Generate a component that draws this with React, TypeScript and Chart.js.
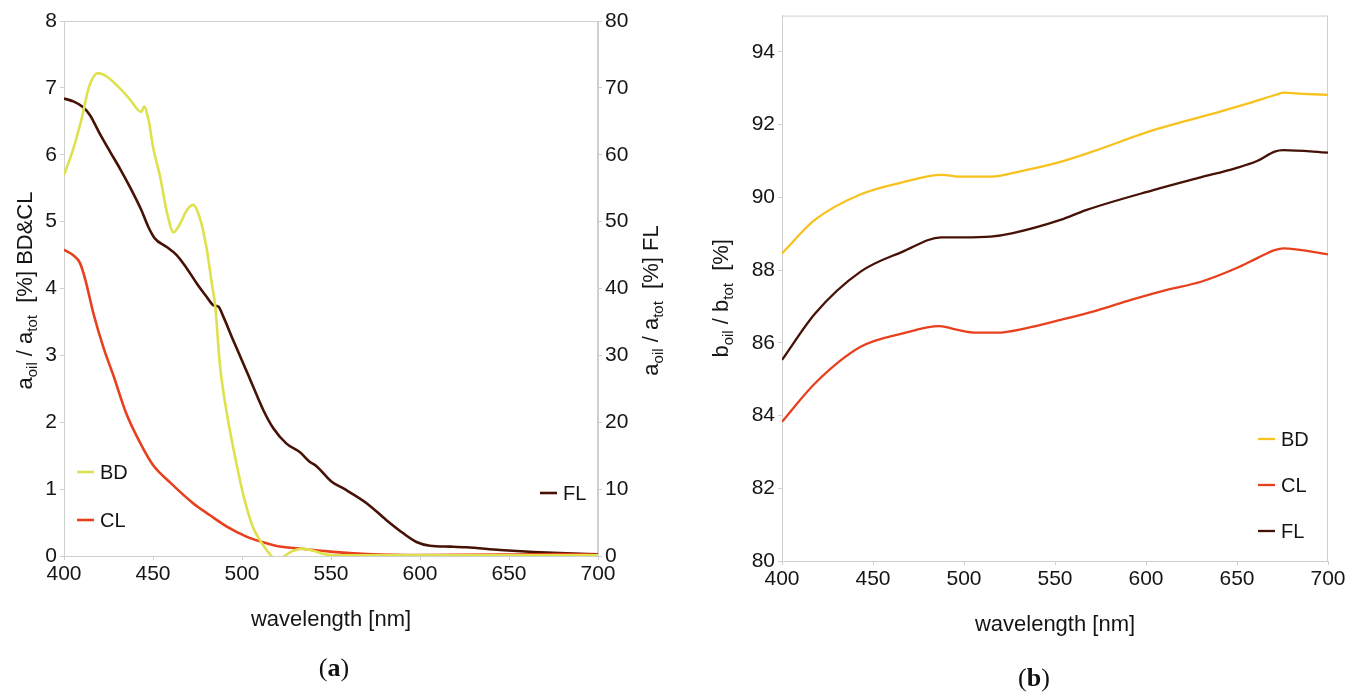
import React, { useEffect, useRef } from 'react';
import { Chart, registerables } from 'chart.js';

Chart.register(...registerables);

// ---------- Panel (a) data ----------
const wlBDa = [400, 405, 410, 414, 419, 424, 430, 436, 442, 443.5, 445, 447.5, 450, 454, 458, 461.5, 465, 469, 472.5, 476, 480, 483, 485, 487.5, 491.5, 495, 500.5, 506, 510, 516.5, 520, 524, 528, 534, 540, 546, 552, 560, 600, 650, 700];
const valBDa = [5.7, 6.07, 6.55, 7.01, 7.22, 7.17, 7.03, 6.86, 6.66, 6.64, 6.72, 6.52, 6.12, 5.67, 5.12, 4.84, 4.96, 5.17, 5.25, 5.08, 4.62, 4.08, 3.73, 2.88, 2.13, 1.63, 0.94, 0.44, 0.24, 0.0, -0.08, 0.0, 0.07, 0.11, 0.08, 0.03, 0.012, 0.01, 0.01, 0.01, 0.01];

const wlCLa = [400, 405, 409, 412, 416.5, 422, 428, 435, 443, 450, 460, 472.5, 482, 491.5, 502.5, 510, 519.5, 532.5, 549.5, 570, 600, 650, 680, 700];
const valCLa = [4.58, 4.5, 4.38, 4.13, 3.63, 3.13, 2.68, 2.13, 1.68, 1.36, 1.09, 0.79, 0.61, 0.44, 0.29, 0.22, 0.15, 0.11, 0.065, 0.03, 0.015, 0.02, 0.03, 0.02];

const wlFLa = [400, 405, 410.8, 414.6, 420, 426, 431.5, 437, 443.5, 447.4, 451, 457.7, 463.3, 469, 474.5, 480, 484, 486.7, 489.5, 495, 500.7, 506.3, 512, 517.6, 525, 532.6, 538, 542, 550.4, 557, 570, 581, 590.6, 598, 605.6, 617, 626, 645, 664, 682, 700];
const valFLa = [68.4, 68.0, 67.1, 65.9, 63.2, 60.4, 57.9, 55.2, 51.7, 49.2, 47.5, 46.2, 45.0, 43.0, 40.8, 38.8, 37.5, 37.3, 35.8, 32.3, 28.8, 25.3, 21.8, 19.1, 16.8, 15.5, 14.1, 13.4, 11.1, 10.1, 7.9, 5.4, 3.4, 2.1, 1.54, 1.4, 1.3, 0.9, 0.6, 0.4, 0.25];

// ---------- Panel (b) data ----------
const wlBDb = [400, 418, 443, 466, 487.6, 499, 514.6, 533.8, 553, 570, 604, 640.7, 659, 671.8, 675.5, 686, 700];
const valBDb = [88.46, 89.38, 90.08, 90.41, 90.62, 90.57, 90.57, 90.75, 90.98, 91.25, 91.85, 92.36, 92.63, 92.83, 92.88, 92.85, 92.82];

const wlCLb = [400, 418.2, 443.2, 466.4, 486.6, 495.3, 506.9, 518.4, 533.8, 553.1, 572.4, 591.7, 611, 630.2, 649.5, 661.1, 670.7, 675.5, 700];
const valCLb = [83.83, 84.89, 85.89, 86.26, 86.46, 86.37, 86.28, 86.28, 86.4, 86.63, 86.88, 87.18, 87.45, 87.68, 88.05, 88.33, 88.55, 88.6, 88.43];

const wlFLb = [400, 418.2, 443.2, 466.4, 487.6, 499.2, 514.6, 526.2, 553, 567, 604, 630, 649, 661, 670.7, 675.5, 700];
const valFLb = [85.53, 86.81, 87.96, 88.51, 88.9, 88.9, 88.92, 89.01, 89.38, 89.65, 90.2, 90.55, 90.8, 91.0, 91.26, 91.3, 91.23];

const xTicksA = [400, 450, 500, 550, 600, 650, 700];

const seriesLabels = ['BD', 'CL', 'FL'];

const FONT = '"Liberation Sans", Arial, sans-serif';
const C_BD_A = '#dfe14c';
const C_BD_B = '#f7c21f';
const C_CL = '#e8401e';
const C_FL = '#461206';
const AXIS = '#cfcfcf';
const TXT = '#151515';

type Seg = { t: string; sub?: boolean };

const titleA_left: Seg[] = [{ t: 'a' }, { t: 'oil', sub: true }, { t: ' / a' }, { t: 'tot', sub: true }, { t: '  [%] BD&CL' }];
const titleA_right: Seg[] = [{ t: 'a' }, { t: 'oil', sub: true }, { t: ' / a' }, { t: 'tot', sub: true }, { t: '  [%] FL' }];
const titleB_left: Seg[] = [{ t: 'b' }, { t: 'oil', sub: true }, { t: ' / b' }, { t: 'tot', sub: true }, { t: '  [%]' }];
const xTitle = 'wavelength [nm]';

function pts(xs: number[], ys: number[]) {
  return xs.map((x, i) => ({ x, y: ys[i] }));
}

function drawRich(ctx: CanvasRenderingContext2D, segs: Seg[], x: number, y: number, rot: number, size: number) {
  ctx.save();
  ctx.translate(x, y);
  ctx.rotate(rot);
  const big = `${size}px ${FONT}`;
  const small = `${Math.round(size * 0.68)}px ${FONT}`;
  let total = 0;
  for (const s of segs) {
    ctx.font = s.sub ? small : big;
    total += ctx.measureText(s.t).width;
  }
  let cx = -total / 2;
  ctx.textAlign = 'left';
  ctx.textBaseline = 'alphabetic';
  ctx.fillStyle = TXT;
  const base = size * 0.36;
  for (const s of segs) {
    ctx.font = s.sub ? small : big;
    ctx.fillText(s.t, cx, base + (s.sub ? size * 0.22 : 0));
    cx += ctx.measureText(s.t).width;
  }
  ctx.restore();
}

type LegendItem = { label: string; color: string; dx: number; dy: number; fromRight: boolean };

function makeDecor(opts: {
  leftTitle: Seg[];
  leftTitleDx: number;
  leftTitleDy: number;
  rightTitle?: Seg[];
  rightTitleDx?: number;
  rightTitleDy?: number;
  xTitleDy: number;
  legend: LegendItem[];
  lineW: number;
}) {
  return {
    id: 'decor',
    beforeDatasetsDraw(chart: any) {
      const { ctx, chartArea: a } = chart;
      ctx.save();
      ctx.strokeStyle = AXIS;
      ctx.lineWidth = 1;
      ctx.beginPath();
      ctx.moveTo(a.left, a.top + 0.5);
      ctx.lineTo(a.right, a.top + 0.5);
      ctx.moveTo(a.right - 0.5, a.top);
      ctx.lineTo(a.right - 0.5, a.bottom);
      ctx.stroke();
      ctx.restore();
    },
    afterDraw(chart: any) {
      const { ctx, chartArea: a } = chart;
      const cy = (a.top + a.bottom) / 2;
      drawRich(ctx, opts.leftTitle, a.left + opts.leftTitleDx, cy + opts.leftTitleDy, -Math.PI / 2, 22);
      if (opts.rightTitle) drawRich(ctx, opts.rightTitle, a.right + (opts.rightTitleDx || 0), cy + (opts.rightTitleDy || 0), -Math.PI / 2, 22);
      ctx.save();
      ctx.font = `22px ${FONT}`;
      ctx.fillStyle = TXT;
      ctx.textAlign = 'center';
      ctx.textBaseline = 'middle';
      ctx.fillText(xTitle, (a.left + a.right) / 2, a.bottom + opts.xTitleDy);
      ctx.font = `20px ${FONT}`;
      ctx.textAlign = 'left';
      for (const it of opts.legend) {
        const x0 = it.fromRight ? a.right + it.dx : a.left + it.dx;
        const y0 = a.bottom + it.dy;
        ctx.strokeStyle = it.color;
        ctx.lineWidth = opts.lineW;
        ctx.beginPath();
        ctx.moveTo(x0, y0);
        ctx.lineTo(x0 + 17, y0);
        ctx.stroke();
        ctx.fillText(it.label, x0 + 23, y0 + 1);
      }
      ctx.restore();
    },
  };
}

const tickFont = { family: FONT, size: 21 };

function xScale(height: number) {
  return {
    type: 'linear' as const,
    min: 400,
    max: 700,
    afterBuildTicks: (s: any) => {
      s.ticks = xTicksA.map((v) => ({ value: v }));
    },
    afterFit: (s: any) => {
      s.height = height;
    },
    grid: { drawOnChartArea: false, drawTicks: true, tickLength: 4, color: AXIS },
    border: { display: true, color: AXIS },
    ticks: { color: TXT, font: tickFont, padding: 2, maxRotation: 0, autoSkip: false },
  };
}

export default function App() {
  const refA = useRef<HTMLCanvasElement>(null);
  const refB = useRef<HTMLCanvasElement>(null);

  useEffect(() => {
    const lineDs = (label: string, xs: number[], ys: number[], color: string, w: number, axis: string) => ({
      label,
      data: pts(xs, ys),
      borderColor: color,
      backgroundColor: color,
      borderWidth: w,
      pointRadius: 0,
      cubicInterpolationMode: 'monotone' as const,
      fill: false,
      yAxisID: axis,
    });

    const chartA = new Chart(refA.current!, {
      type: 'line',
      data: {
        datasets: [
          lineDs(seriesLabels[0], wlBDa, valBDa, C_BD_A, 2.6, 'y'),
          lineDs(seriesLabels[1], wlCLa, valCLa, C_CL, 2.6, 'y'),
          lineDs(seriesLabels[2], wlFLa, valFLa, C_FL, 2.6, 'y2'),
        ],
      },
      options: {
        responsive: false,
        animation: false,
        layout: { padding: { left: 0, right: 0, top: 21, bottom: 0 } },
        plugins: { legend: { display: false }, tooltip: { enabled: false } },
        scales: {
          x: xScale(137),
          y: {
            type: 'linear',
            position: 'left',
            min: 0,
            max: 8,
            afterFit: (s: any) => {
              s.width = 64;
            },
            grid: { drawOnChartArea: false, drawTicks: true, tickLength: 4, color: AXIS },
            border: { display: true, color: AXIS },
            ticks: { stepSize: 1, color: TXT, font: tickFont, padding: 3 },
          },
          y2: {
            type: 'linear',
            position: 'right',
            min: 0,
            max: 80,
            afterFit: (s: any) => {
              s.width = 82;
            },
            grid: { drawOnChartArea: false, drawTicks: true, tickLength: 4, color: AXIS },
            border: { display: true, color: AXIS },
            ticks: { stepSize: 10, color: TXT, font: tickFont, padding: 3 },
          },
        },
      },
      plugins: [
        makeDecor({
          leftTitle: titleA_left,
          leftTitleDx: -40,
          leftTitleDy: 2,
          rightTitle: titleA_right,
          rightTitleDx: 52,
          rightTitleDy: 12,
          xTitleDy: 64,
          lineW: 2.6,
          legend: [
            { label: seriesLabels[0], color: C_BD_A, dx: 13, dy: -84, fromRight: false },
            { label: seriesLabels[1], color: C_CL, dx: 13, dy: -36, fromRight: false },
            { label: seriesLabels[2], color: C_FL, dx: -58, dy: -63, fromRight: true },
          ],
        }),
      ],
    } as any);

    const chartB = new Chart(refB.current!, {
      type: 'line',
      data: {
        datasets: [
          lineDs(seriesLabels[0], wlBDb, valBDb, C_BD_B, 2.3, 'y'),
          lineDs(seriesLabels[1], wlCLb, valCLb, C_CL, 2.3, 'y'),
          lineDs(seriesLabels[2], wlFLb, valFLb, C_FL, 2.3, 'y'),
        ],
      },
      options: {
        responsive: false,
        animation: false,
        layout: { padding: { left: 0, right: 34, top: 15, bottom: 0 } },
        plugins: { legend: { display: false }, tooltip: { enabled: false } },
        scales: {
          x: xScale(132),
          y: {
            type: 'linear',
            position: 'left',
            min: 80,
            max: 95,
            afterBuildTicks: (s: any) => {
              s.ticks = s.ticks.filter((t: any) => t.value <= 94);
            },
            afterFit: (s: any) => {
              s.width = 102;
            },
            grid: { drawOnChartArea: false, drawTicks: true, tickLength: 4, color: AXIS },
            border: { display: true, color: AXIS },
            ticks: { stepSize: 2, color: TXT, font: tickFont, padding: 3 },
          },
        },
      },
      plugins: [
        makeDecor({
          leftTitle: titleB_left,
          leftTitleDx: -62,
          leftTitleDy: 10,
          xTitleDy: 64,
          lineW: 2.3,
          legend: [
            { label: seriesLabels[0], color: C_BD_B, dx: -70, dy: -122, fromRight: true },
            { label: seriesLabels[1], color: C_CL, dx: -70, dy: -76, fromRight: true },
            { label: seriesLabels[2], color: C_FL, dx: -70, dy: -30, fromRight: true },
          ],
        }),
      ],
    } as any);

    return () => {
      chartA.destroy();
      chartB.destroy();
    };
  }, []);

  const capStyle: React.CSSProperties = {
    position: 'absolute',
    transform: 'translate(-50%, -50%)',
    fontFamily: '"Liberation Serif", "DejaVu Serif", serif',
    fontSize: 26,
    lineHeight: 1,
    color: '#111',
    whiteSpace: 'nowrap',
  };

  return (
    <div style={{ position: 'fixed', left: 0, top: 0, width: 1362, height: 693, background: '#fff', overflow: 'hidden' }}>
      <canvas ref={refA} width={680} height={693} style={{ position: 'absolute', left: 0, top: 0, width: 680, height: 693 }} />
      <canvas ref={refB} width={682} height={693} style={{ position: 'absolute', left: 680, top: 0, width: 682, height: 693 }} />
      <div style={{ ...capStyle, left: 334, top: 668 }}>
        (<b>a</b>)
      </div>
      <div style={{ ...capStyle, left: 1034, top: 678 }}>
        (<b>b</b>)
      </div>
    </div>
  );
}
